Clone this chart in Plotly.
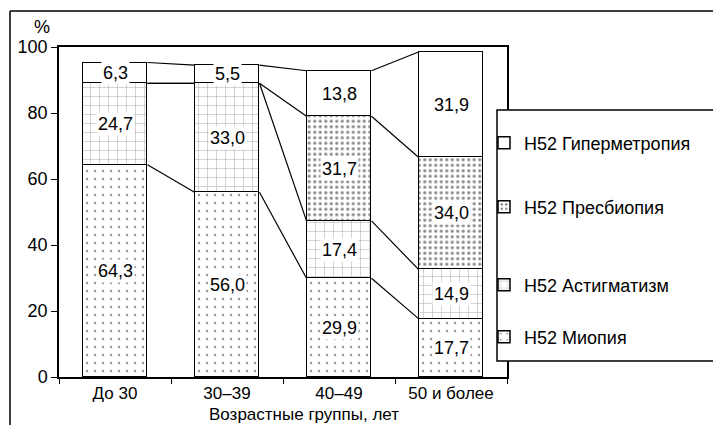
import plotly.graph_objects as go

categories = ["До 30", "30–39", "40–49", "50 и более"]
series_names = ["H52 Миопия", "H52 Астигматизм", "H52 Пресбиопия", "H52 Гиперметропия"]
miopia = [64.3, 56.0, 29.9, 17.7]
astigmatism = [24.7, 33.0, 17.4, 14.9]
presbyopia = [0.0, 0.0, 31.7, 34.0]
hypermetropia = [6.3, 5.5, 13.8, 31.9]
y_ticks = [0, 20, 40, 60, 80, 100]

series_values = [miopia, astigmatism, presbyopia, hypermetropia]
patterns = [
    dict(shape=".", size=8, solidity=0.08, fgcolor="#333", bgcolor="white"),
    dict(shape="+", size=9, solidity=0.1, fgcolor="#444", bgcolor="white"),
    dict(shape=".", size=5.5, solidity=0.28, fgcolor="#111", bgcolor="white"),
    dict(shape="", fgcolor="black", bgcolor="white"),
]

W, H = 713, 425
L, R, T, B = 59, 507, 47, 377
pw, ph = R - L, B - T


def px(x):
    return (x - L) / pw


def py(y):
    return (B - y) / ph


BW = 0.58
xs = list(range(len(categories)))
fig = go.Figure()

legend_names = {0: "legend4", 1: "legend3", 2: "legend2", 3: "legend"}
for k, (name, vals, pat) in enumerate(zip(series_names, series_values, patterns)):
    fig.add_trace(go.Bar(
        x=xs, y=vals, name=name, width=BW,
        marker=dict(color="white", pattern=pat, line=dict(color="black", width=1.5)),
        legend=legend_names[k],
    ))

# cumulative tops and series lines
cum = [[0.0] * len(categories)]
for vals in series_values:
    cum.append([a + b for a, b in zip(cum[-1], vals)])

for k in range(1, len(cum)):
    lx, ly = [], []
    for i in range(len(categories) - 1):
        lx += [xs[i] + BW / 2, xs[i + 1] - BW / 2, None]
        ly += [cum[k][i], cum[k][i + 1], None]
    fig.add_trace(go.Scatter(x=lx, y=ly, mode="lines", line=dict(color="black", width=1.2),
                             showlegend=False, hoverinfo="skip"))

# value labels
for k, vals in enumerate(series_values):
    for i, v in enumerate(vals):
        if v <= 0:
            continue
        fig.add_annotation(x=xs[i], y=cum[k][i] + v / 2, text=f"{v:.1f}".replace(".", ","),
                           showarrow=False, bgcolor="white", borderpad=1,
                           font=dict(size=18, color="black"))

font = "Liberation Sans, Arial, sans-serif"
fig.update_layout(
    width=W, height=H,
    margin=dict(l=L, r=W - R, t=T, b=H - B),
    paper_bgcolor="white", plot_bgcolor="white",
    barmode="stack", bargap=0,
    font=dict(family=font, size=17, color="black"),
    separators=", ",
    xaxis=dict(range=[-0.5, 3.5], tickvals=xs, ticktext=categories, ticks="",
               showline=True, linecolor="black", linewidth=1.5, mirror=True,
               showgrid=False, zeroline=False, tickfont=dict(size=17),
               minor=dict(tickvals=[-0.5, 0.5, 1.5, 2.5, 3.5], ticks="outside", ticklen=5,
                          tickcolor="black", showgrid=False)),
    yaxis=dict(range=[0, 100], tickvals=y_ticks, ticks="outside", ticklen=6, tickcolor="black",
               showline=True, linecolor="black", linewidth=1.5, mirror=True,
               showgrid=False, zeroline=False, tickfont=dict(size=18)),
    showlegend=True,
)

legend_y = {"legend": 143, "legend2": 207, "legend3": 285, "legend4": 337}
for lg, yy in legend_y.items():
    fig.update_layout({lg: dict(x=px(484), y=py(yy), xanchor="left", yanchor="middle",
                                bgcolor="rgba(0,0,0,0)", borderwidth=0,
                                font=dict(size=18, family=font), itemwidth=30)})

fig.add_annotation(x=px(32), y=py(27), xref="paper", yref="paper", text="%",
                   showarrow=False, yanchor="middle", font=dict(size=18))
fig.add_annotation(x=px(304), y=py(414), xref="paper", yref="paper", text="Возрастные группы, лет",
                   showarrow=False, yanchor="middle", xanchor="center", font=dict(size=17))

# legend box
fig.add_shape(type="rect", xref="paper", yref="paper", x0=px(497), x1=px(730), y0=py(361), y1=py(110),
              line=dict(color="black", width=1.5), fillcolor="white", layer="above")
# outer chart frame
fig.add_shape(type="line", xref="paper", yref="paper", x0=px(10), x1=px(720), y0=py(11), y1=py(11),
              line=dict(color="black", width=1.5))
fig.add_shape(type="line", xref="paper", yref="paper", x0=px(10), x1=px(10), y0=py(11), y1=py(430),
              line=dict(color="black", width=1.5))

fig.write_html("out.html")
